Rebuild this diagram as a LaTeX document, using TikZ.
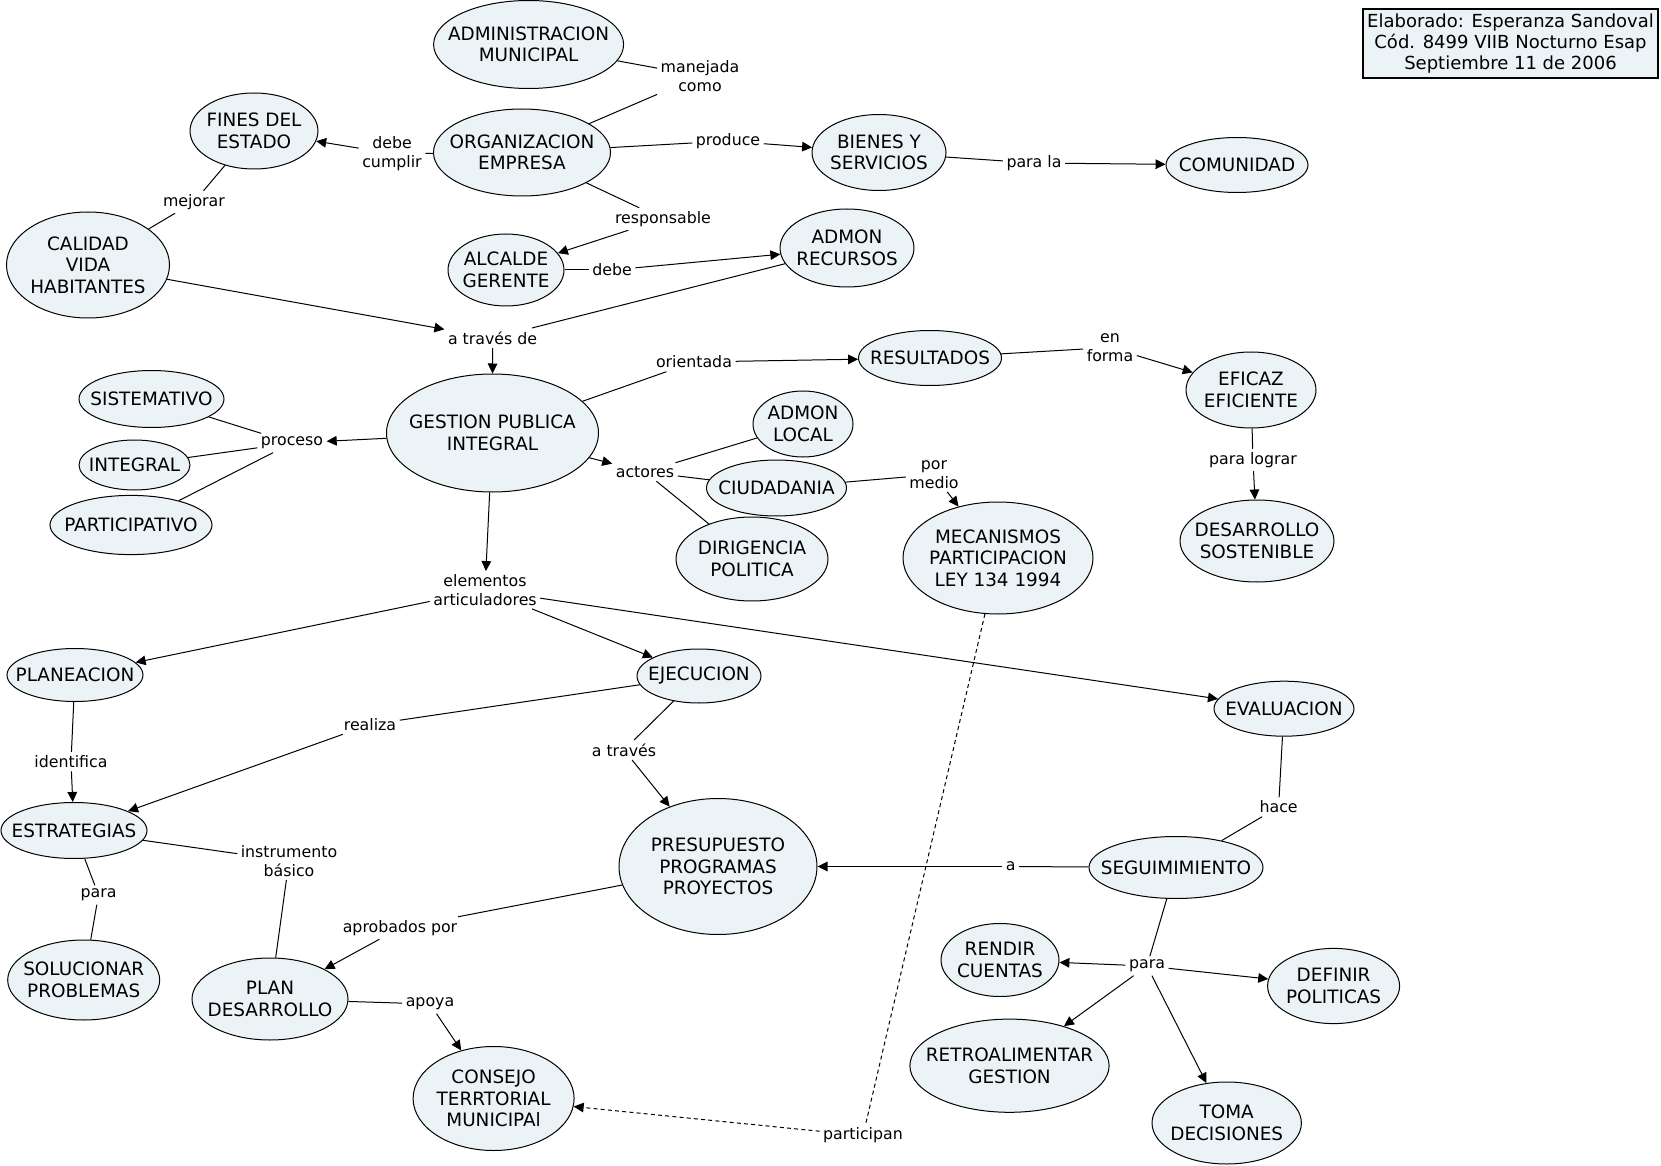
\documentclass[tikz,border=0pt]{standalone}
\usepackage{fontspec}
\setmainfont{DejaVu Sans}
\usetikzlibrary{shapes.geometric,arrows.meta}
\definecolor{cfill}{RGB}{236,243,246}
\tikzset{
  concept/.style={ellipse, draw, fill=cfill, inner sep=0pt, line width=0.5pt},
  ctext/.style={align=center, inner sep=0pt, font=\fontsize{9.2}{10.8}\selectfont},
  lnk/.style={align=center, inner sep=1.6pt, font=\fontsize{7.9}{9.2}\selectfont},
  con/.style={draw, line width=0.5pt},
  arr/.style={con, -{Triangle[length=5pt,width=4.8pt]}},
  dsh/.style={dash pattern=on 2pt off 1.6pt}
}
\newcommand\cpt[6]{\node[concept,minimum width=#4pt,minimum height=#5pt,label={[ctext]center:#6}] (#1) at (#2,#3) {};}
\begin{document}
\begin{tikzpicture}[x=0.5pt,y=-0.5pt]
\fill[white] (0,0) rectangle (1661,1166);
\useasboundingbox (0,0) rectangle (1661,1166);

% title box
\node[draw, fill=cfill, line width=0.8pt, minimum width=147.5pt, minimum height=34.5pt, align=center, inner sep=0pt,
  font=\fontsize{9}{10.5}\selectfont] (title) at (1510.5,43.5)
  {Elaborado: Esperanza Sandoval\\Cód. 8499 VIIB Nocturno Esap\\Septiembre 11 de 2006};

% concepts
\cpt{adm}{528.6}{44.5}{95}{44}{ADMINISTRACION\\MUNICIPAL}
\cpt{org}{522}{152.5}{88.5}{43.5}{ORGANIZACION\\EMPRESA}
\cpt{fines}{254}{131}{64}{38}{FINES DEL\\ESTADO}
\cpt{cal}{88}{265}{81.5}{53}{CALIDAD\\VIDA\\HABITANTES}
\cpt{bien}{879}{152.5}{67}{38}{BIENES Y\\SERVICIOS}
\cpt{com}{1237}{165}{71}{27.5}{COMUNIDAD}
\cpt{alc}{506}{270}{58}{36}{ALCALDE\\GERENTE}
\cpt{rec}{847}{248}{67}{39}{ADMON\\RECURSOS}
\cpt{ges}{492.5}{433}{106}{59}{GESTION PUBLICA\\INTEGRAL}
\cpt{res}{930}{358}{71.5}{27.5}{RESULTADOS}
\cpt{efi}{1251}{390}{65}{38}{EFICAZ\\EFICIENTE}
\cpt{des}{1257}{541}{77}{41}{DESARROLLO\\SOSTENIBLE}
\cpt{sis}{151.5}{399}{72.5}{28.5}{SISTEMATIVO}
\cpt{int}{134.5}{465}{55.5}{25}{INTEGRAL}
\cpt{par}{131}{525}{81}{29.6}{PARTICIPATIVO}
\cpt{loc}{803}{424}{50}{33}{ADMON\\LOCAL}
\cpt{ciu}{776.5}{488}{70}{28}{CIUDADANIA}
\cpt{dir}{752}{559}{76}{42}{DIRIGENCIA\\POLITICA}
\cpt{mec}{998}{558}{95}{56}{MECANISMOS\\PARTICIPACION\\LEY 134 1994}
\cpt{pla}{75}{675}{68}{26.5}{PLANEACION}
\cpt{eje}{699}{676}{62}{27}{EJECUCION}
\cpt{eva}{1284}{708.7}{70}{27.5}{EVALUACION}
\cpt{est}{74}{830.5}{73}{28}{ESTRATEGIAS}
\cpt{pre}{718}{866.5}{99}{68}{PRESUPUESTO\\PROGRAMAS\\PROYECTOS}
\cpt{seg}{1176}{867.5}{87}{31}{SEGUIMIMIENTO}
\cpt{sol}{83.7}{980}{76}{40}{SOLUCIONAR\\PROBLEMAS}
\cpt{pd}{270}{999}{78}{41}{PLAN\\DESARROLLO}
\cpt{cons}{493.6}{1098.5}{80.5}{52}{CONSEJO\\TERRTORIAL\\MUNICIPAl}
\cpt{ren}{1000}{960}{59}{36.5}{RENDIR\\CUENTAS}
\cpt{def}{1333.6}{986}{66}{37.6}{DEFINIR\\POLITICAS}
\cpt{ret}{1009.5}{1065.7}{99.6}{46.6}{RETROALIMENTAR\\GESTION}
\cpt{tom}{1226.7}{1123}{74.7}{41}{TOMA\\DECISIONES}

% linking phrases
\node[lnk] (lman) at (700,76) {manejada\\como};
\node[lnk] (ldeb) at (392,153.6) {debe\\cumplir};
\node[lnk] (lmej) at (194,202) {mejorar};
\node[lnk] (lpro) at (728,141) {produce};
\node[lnk] (lpar) at (1034,163) {para la};
\node[lnk] (lresp) at (663,219) {responsable};
\node[lnk] (ldebe) at (612,270) {debe};
\node[lnk] (latr) at (492.6,338) {a través de};
\node[lnk] (lori) at (694,362) {orientada};
\node[lnk] (lenf) at (1110,347.5) {en\\forma};
\node[lnk] (lproc) at (292,443) {proceso};
\node[lnk] (lact) at (645,472) {actores};
\node[lnk] (lpor) at (934,474.6) {por\\medio};
\node[lnk] (lplo) at (1253,460) {para lograr};
\node[lnk] (lele) at (485,590) {elementos\\articuladores};
\node[lnk] (lrea) at (370,724.6) {realiza};
\node[lnk] (latv) at (624,750) {a través};
\node[lnk] (lide) at (71,761.6) {identifica};
\node[lnk] (lhac) at (1278.6,807) {hace};
\node[lnk] (lins) at (289,861) {instrumento\\básico};
\node[lnk] (la) at (1010.6,866.5) {a};
\node[lnk] (lpa1) at (98.5,895) {para};
\node[lnk] (lapr) at (400,928) {aprobados por};
\node[lnk] (lpa2) at (1147,966) {para};
\node[lnk] (lapo) at (430,1004) {apoya};
\node[lnk] (lpt) at (863,1135.6) {participan};

% connectors
\draw[con] (adm) -- (lman);
\draw[con] (lman) -- (org);
\draw[con] (org) -- (ldeb);
\draw[arr] (ldeb) -- (fines);
\draw[con] (fines) -- (lmej);
\draw[con] (lmej) -- (cal);
\draw[con] (org) -- (lpro);
\draw[arr] (lpro) -- (bien);
\draw[con] (bien) -- (lpar);
\draw[arr] (lpar) -- (com);
\draw[con] (org) -- (lresp);
\draw[arr] (lresp) -- (alc);
\draw[con] (alc) -- (ldebe);
\draw[arr] (ldebe) -- (rec);
\draw[arr] (cal) -- (latr);
\draw[con] (rec) -- (latr);
\draw[arr] (latr) -- (ges);
\draw[con] (ges) -- (lori);
\draw[arr] (lori) -- (res);
\draw[con] (res) -- (lenf);
\draw[arr] (lenf) -- (efi);
\draw[con] (efi) -- (lplo);
\draw[arr] (lplo) -- (des);
\draw[arr] (ges) -- (lproc);
\draw[con] (lproc) -- (sis);
\draw[con] (lproc) -- (int);
\draw[con] (lproc) -- (par);
\draw[arr] (ges) -- (lact);
\draw[con] (lact) -- (loc);
\draw[con] (lact) -- (ciu);
\draw[con] (lact) -- (dir);
\draw[con] (ciu) -- (lpor);
\draw[arr] (lpor) -- (mec);
\draw[arr] (ges) -- (lele);
\draw[arr] (lele) -- (pla);
\draw[arr] (lele) -- (eje);
\draw[arr] (lele) -- (eva);
\draw[con] (pla) -- (lide);
\draw[arr] (lide) -- (est);
\draw[con] (eje) -- (lrea);
\draw[arr] (lrea) -- (est);
\draw[con] (eje) -- (latv);
\draw[arr] (latv) -- (pre);
\draw[con] (eva) -- (lhac);
\draw[con] (lhac) -- (seg);
\draw[con] (seg) -- (la);
\draw[arr] (la) -- (pre);
\draw[con] (est) -- (lpa1);
\draw[con] (lpa1) -- (sol);
\draw[con] (est) -- (lins);
\draw[con] (lins) -- (pd);
\draw[con] (pre) -- (lapr);
\draw[arr] (lapr) -- (pd);
\draw[con] (pd) -- (lapo);
\draw[arr] (lapo) -- (cons);
\draw[con,dsh] (mec) -- (lpt);
\draw[arr,dsh] (lpt) -- (cons);
\draw[con] (seg) -- (lpa2);
\draw[arr] (lpa2) -- (ren);
\draw[arr] (lpa2) -- (def);
\draw[arr] (lpa2) -- (ret);
\draw[arr] (lpa2) -- (tom);
\end{tikzpicture}
\end{document}
